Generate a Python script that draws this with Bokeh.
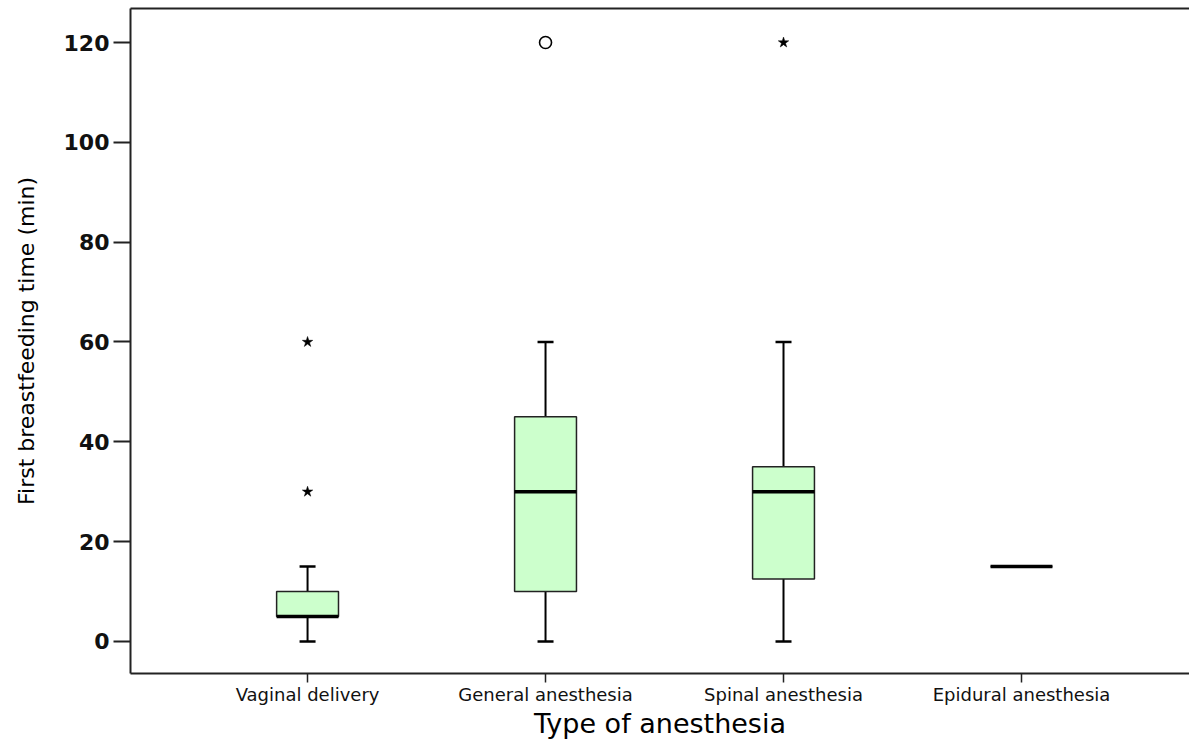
from bokeh.plotting import figure
from bokeh.models import (ColumnDataSource, FixedTicker, Whisker,
                          TeeHead, LinearAxis, Range1d)
from bokeh.embed import file_html
from bokeh.resources import INLINE

categories = ["Vaginal delivery", "General anesthesia", "Spinal anesthesia", "Epidural anesthesia"]
q1 = [5, 10, 12.5, 15]
median = [5, 30, 30, 15]
q3 = [10, 45, 35, 15]
whisker_low = [0, 0, 0, 15]
whisker_high = [15, 60, 60, 15]

circle_cat = ["General anesthesia"]
circle_val = [120]
star_cat = ["Vaginal delivery", "Vaginal delivery", "Spinal anesthesia"]
star_val = [30, 60, 120]

y_ticks = [0, 20, 40, 60, 80, 100, 120]

pos = {c: i + 1 for i, c in enumerate(categories)}
xs = [pos[c] for c in categories]

src = ColumnDataSource(dict(x=xs, q1=q1, med=median, q3=q3,
                            lo=whisker_low, hi=whisker_high))

p = figure(width=1189, height=741, output_backend="svg", toolbar_location=None,
           x_range=Range1d(0.256, 4.706),
           y_range=Range1d(-6.42, 126.82),
           min_border_left=130, min_border_right=0, min_border_top=8,
           min_border_bottom=60)
p.outline_line_color = None
p.grid.visible = False
p.background_fill_color = "white"

# whiskers
wh = Whisker(source=src, base="x", lower="lo", upper="hi",
             line_color="black", line_width=2,
             lower_head=TeeHead(size=16, line_color="black", line_width=2.5),
             upper_head=TeeHead(size=16, line_color="black", line_width=2.5),
             level="underlay")
p.add_layout(wh)

# boxes
p.vbar(x="x", bottom="q1", top="q3", width=0.26, source=src,
       fill_color="#ccffcc", line_color="#222222", line_width=1.5)
# medians
p.rect(x="x", y="med", width=0.26, height=3.5, height_units="screen",
       source=src, fill_color="black", line_color=None)

# outliers
p.scatter(x=[pos[c] for c in circle_cat], y=circle_val, marker="circle", size=12,
          fill_color=None, line_color="black", line_width=1.6)
p.scatter(x=[pos[c] for c in star_cat], y=star_val, marker="star", size=11,
          fill_color="black", line_color="black", line_width=0.5)

# axes styling
ya = p.yaxis[0]
ya.ticker = FixedTicker(ticks=y_ticks)
ya.minor_tick_line_color = None
ya.major_tick_in = 0
ya.major_tick_out = 17
ya.major_tick_line_width = 2
ya.axis_line_width = 2
ya.axis_line_color = "#222222"
ya.major_tick_line_color = "#222222"
ya.major_label_text_font = "DejaVu Sans"
ya.major_label_text_font_style = "bold"
ya.major_label_text_font_size = "22px"
ya.major_label_text_color = "#111111"
ya.major_label_standoff = 4
ya.axis_label = "First breastfeeding time (min)"
ya.axis_label_text_font = "DejaVu Sans"
ya.axis_label_text_font_style = "normal"
ya.axis_label_text_font_size = "22px"
ya.axis_label_text_color = "black"
ya.axis_label_standoff = 22

xa = p.xaxis[0]
xa.ticker = FixedTicker(ticks=xs)
xa.major_label_overrides = {x: c for x, c in zip(xs, categories)}
xa.minor_tick_line_color = None
xa.major_tick_in = 0
xa.major_tick_out = 9
xa.major_tick_line_width = 1.5
xa.axis_line_width = 2
xa.axis_line_color = "#222222"
xa.major_tick_line_color = "#222222"
xa.major_label_text_font = "DejaVu Sans"
xa.major_label_text_font_size = "18px"
xa.major_label_text_color = "#111111"
xa.major_label_standoff = 1
xa.axis_label = "Type of anesthesia"
xa.axis_label_text_font = "DejaVu Sans"
xa.axis_label_text_font_style = "normal"
xa.axis_label_text_font_size = "27px"
xa.axis_label_text_color = "black"
xa.axis_label_standoff = 0

# top frame line
top = LinearAxis(major_tick_line_color=None, minor_tick_line_color=None,
                 major_label_text_font_size="0px", axis_line_width=2,
                 axis_line_color="#222222")
top.ticker = FixedTicker(ticks=[])
p.add_layout(top, "above")

open("out.html", "w").write(file_html(p, INLINE))
